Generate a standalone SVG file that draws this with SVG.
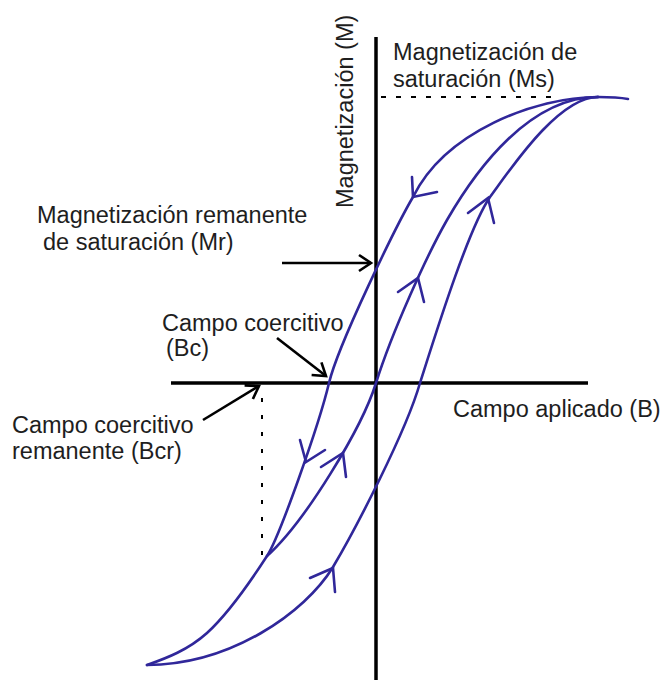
<svg xmlns="http://www.w3.org/2000/svg" width="667" height="680" viewBox="0 0 667 680">
  <style>
    .lbl { font-family: "Liberation Sans", Arial, sans-serif; font-size: 23.5px; fill: #1e1e1e; }
    .axis { stroke: #000; stroke-width: 3.5; fill: none; }
    .curve { stroke: #30279a; stroke-width: 2.6; fill: none; stroke-linecap: round; stroke-linejoin: round; }
    .head { stroke: #30279a; stroke-width: 2.6; fill: none; stroke-linecap: round; stroke-linejoin: miter; }
    .ptr { stroke: #000; stroke-width: 2.6; fill: none; }
    .dash { stroke: #000; stroke-width: 2; fill: none; }
  </style>
  <defs>
    <marker id="chev" markerUnits="userSpaceOnUse" viewBox="-15 -11 18 22" refX="0" refY="0" markerWidth="18" markerHeight="22" orient="auto" overflow="visible">
      <path d="M-12,-8 L0,0 L-12,8" fill="none" stroke="#000" stroke-width="2.6"/>
    </marker>
  </defs>
  <rect width="667" height="680" fill="#fff"/>

  <g id="axes">
    <line class="axis" x1="376" y1="37" x2="376" y2="680"/>
    <line class="axis" x1="171" y1="383" x2="588" y2="383"/>
  </g>

  <g id="guides">
    <line class="dash" x1="381" y1="97" x2="552" y2="97" stroke-dasharray="5 10"/>
    <line class="dash" x1="262" y1="398" x2="262" y2="557" stroke-dasharray="4 13"/>
  </g>

  <g id="hysteresis">
    <path id="descending" class="curve" d="M598,97 C535,97 445,132 413,197 C396,226 338,345 329,383 C319,425 279,538 267,556 C256,573 230,612 207,633 C188,650 167,658 147,665"/>
    <path id="recoil" class="curve" d="M267,556 C305,522 362,428 376,383 C392,332 427,255 447,220 C477,168 530,97 598,97"/>
    <path id="ascending" class="curve" d="M147,665 C230,665 305,613 333,567 C355,530 406,432 420,383 C435,336 468,229 490,197 C510,170 558,97 598,97"/>
    <path id="tail" class="curve" d="M598,97 C610,97 620,97.5 628,99"/>
  </g>

  <g id="arrowheads">
    <polyline class="head" points="412,177 413,197 437,192"/>
    <polyline class="head" points="398,292 418,278 424,302"/>
    <polyline class="head" points="468,213 488,198 494,223"/>
    <polyline class="head" points="300,440 306,462 325,450"/>
    <polyline class="head" points="321,467 343,453 346,477"/>
    <polyline class="head" points="310,578 333,568 335,592"/>
  </g>

  <g id="connectors">
    <line class="ptr" x1="282" y1="263" x2="371" y2="263" marker-end="url(#chev)"/>
    <line class="ptr" x1="277" y1="338" x2="326" y2="376" marker-end="url(#chev)"/>
    <line class="ptr" x1="203" y1="420" x2="259" y2="386" marker-end="url(#chev)"/>
  </g>

  <g id="label-M">
    <text class="lbl" transform="translate(353,208) rotate(-90)">Magnetización (M)</text>
  </g>
  <g id="label-Ms">
    <text class="lbl" x="393" y="60">Magnetización de</text>
    <text class="lbl" x="393" y="87">saturación (Ms)</text>
  </g>
  <g id="label-Mr">
    <text class="lbl" x="37" y="223">Magnetización remanente</text>
    <text class="lbl" x="43" y="250">de saturación (Mr)</text>
  </g>
  <g id="label-Bc">
    <text class="lbl" x="162" y="331">Campo coercitivo</text>
    <text class="lbl" x="166" y="356">(Bc)</text>
  </g>
  <g id="label-Bcr">
    <text class="lbl" x="12" y="433">Campo coercitivo</text>
    <text class="lbl" x="12" y="459">remanente (Bcr)</text>
  </g>
  <g id="label-B">
    <text class="lbl" x="453" y="417">Campo aplicado (B)</text>
  </g>
</svg>
